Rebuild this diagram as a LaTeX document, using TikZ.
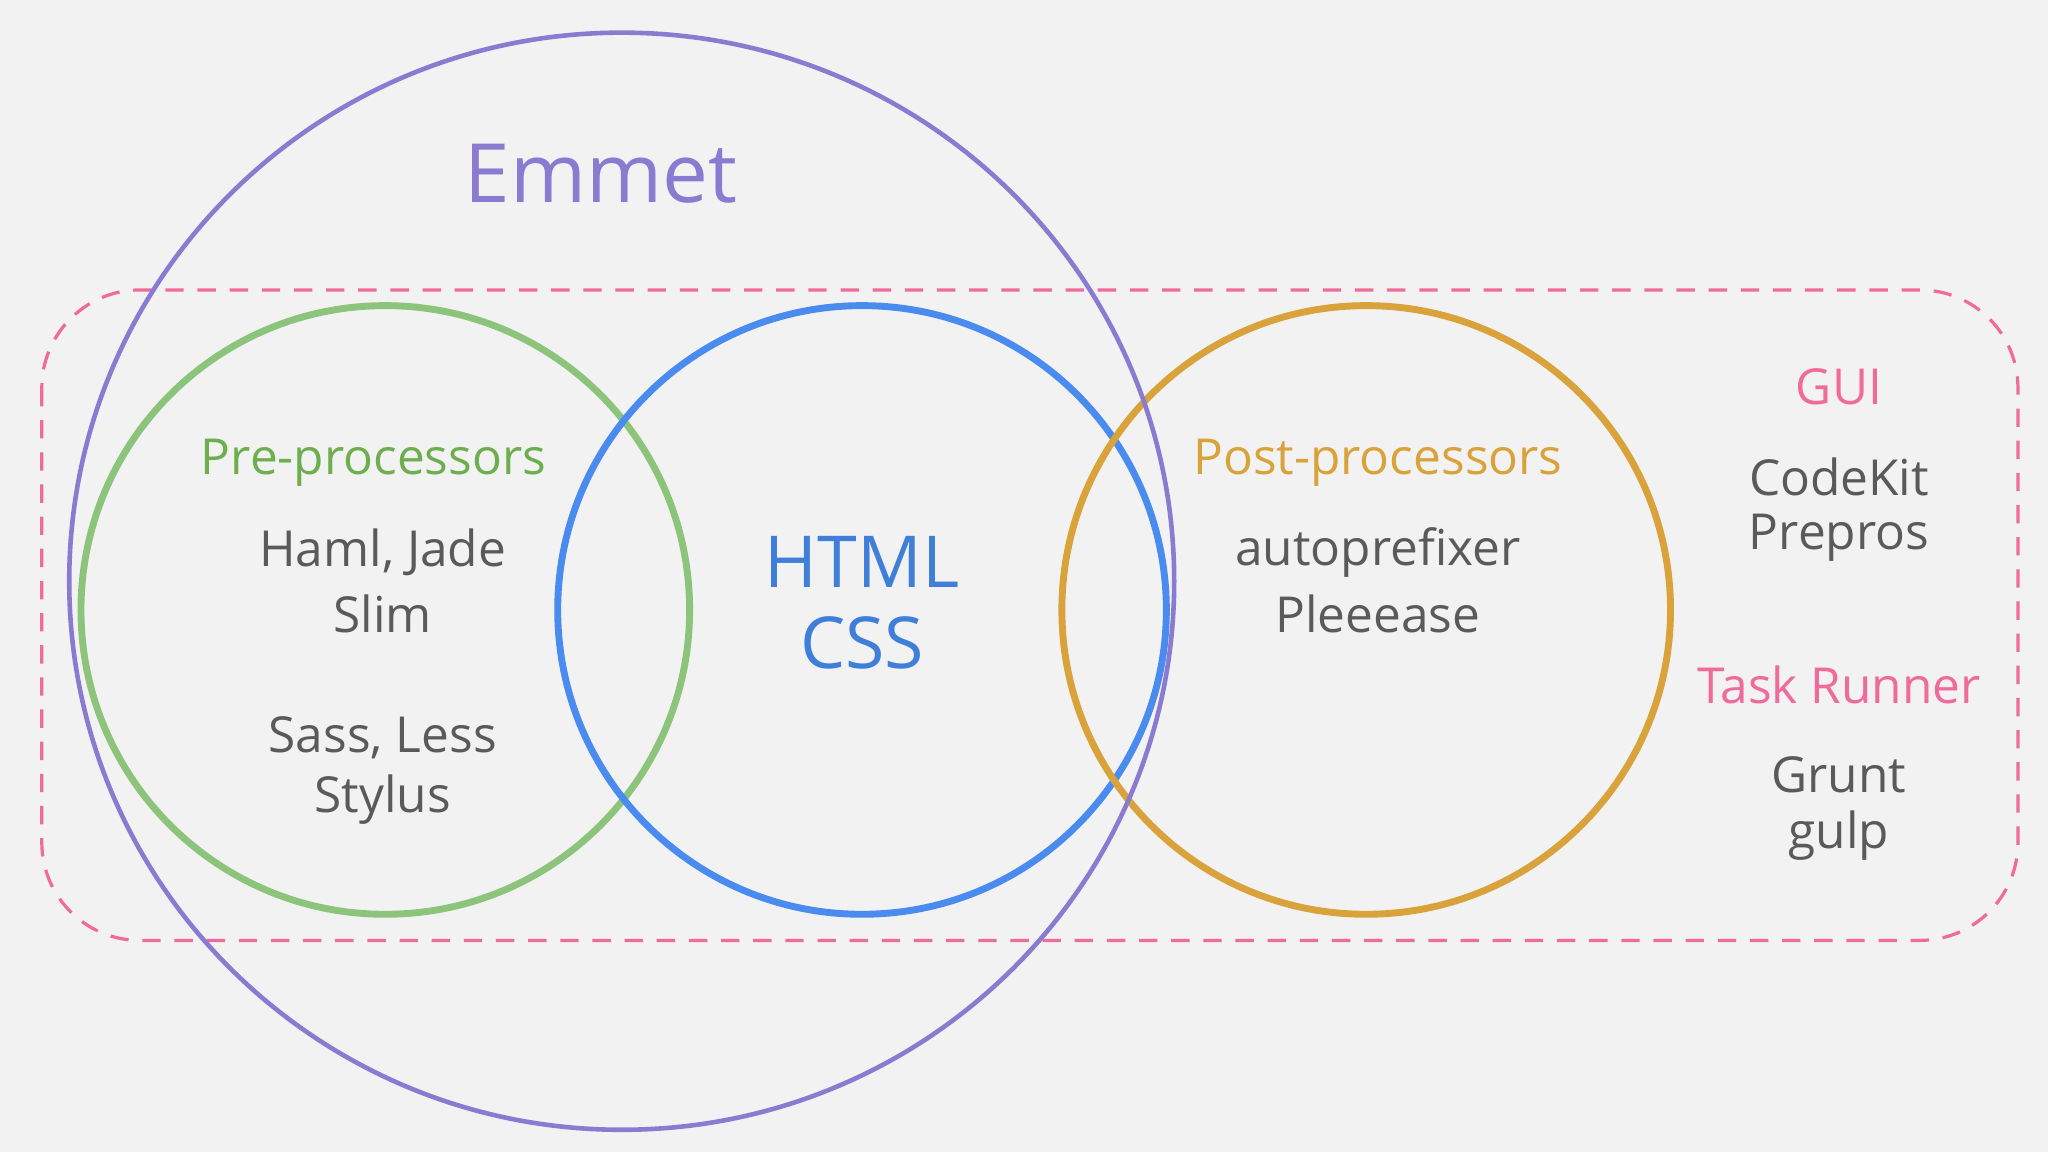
\documentclass[tikz,border=0pt]{standalone}
\usepackage{fontspec}
\setmainfont{Open Sans}
\definecolor{bg}{HTML}{F2F2F2}
\definecolor{emm}{HTML}{8A7BD1}
\definecolor{grn}{HTML}{8DC47C}
\definecolor{grnt}{HTML}{6DAE4F}
\definecolor{blu}{HTML}{4A8BF0}
\definecolor{blut}{HTML}{3F7FD9}
\definecolor{org}{HTML}{D9A23A}
\definecolor{pnk}{HTML}{F06A9A}
\definecolor{gry}{HTML}{5A5A5A}
\tikzset{
  lbl/.style={font=\fontsize{10.8}{13}\selectfont, inner sep=0pt},
  grytxt/.style={lbl, text=gry},
  ring/.style={line width=1.5pt}
}
\begin{document}
\begin{tikzpicture}[x=0.01cm,y=-0.01cm]
\fill[bg] (0,0) rectangle (1568,882);
\useasboundingbox (0,0) rectangle (1568,882);
\draw[pnk, line width=0.7pt, dash pattern=on 4pt off 3pt, rounded corners=0.75cm] (32,222) rectangle (1545,720);
\draw[grn, ring] (295,467) circle (233);
\draw[blu, ring] (660,467) circle (233);
\draw[org, ring] (1046,467) circle (233);
\draw[emm, line width=1pt] (476,445) circle [x radius=423, y radius=420];
\node[text=emm, font=\fontsize{17.8}{22}\selectfont, inner sep=0pt] (emmet) at (460,133) {Emmet};
\node[lbl, text=grnt] (pre) at (286,354) {Pre-processors};
\node[grytxt] (haml) at (293,423) {Haml, Jade};
\node[grytxt] (slim) at (293,470) {Slim};
\node[grytxt] (sass) at (293,565) {Sass, Less};
\node[grytxt] (styl) at (293,612) {Stylus};
\node[text=blut, font=\fontsize{15.6}{18}\selectfont, inner sep=0pt] (html) at (660,430) {HTML};
\node[text=blut, font=\fontsize{15.6}{18}\selectfont, inner sep=0pt] (css) at (660,492) {CSS};
\node[lbl, text=org] (post) at (1055,354) {Post-processors};
\node[grytxt] (auto) at (1055,423) {autoprefixer};
\node[grytxt] (plee) at (1055,470) {Pleeease};
\node[lbl, text=pnk] (gui) at (1408,296) {GUI};
\node[grytxt] (ck) at (1408,365) {CodeKit};
\node[grytxt] (pp) at (1408,412) {Prepros};
\node[lbl, text=pnk] (tr) at (1408,524) {Task Runner};
\node[grytxt] (gr) at (1408,593) {Grunt};
\node[grytxt] (gu) at (1408,640) {gulp};
\end{tikzpicture}
\end{document}
